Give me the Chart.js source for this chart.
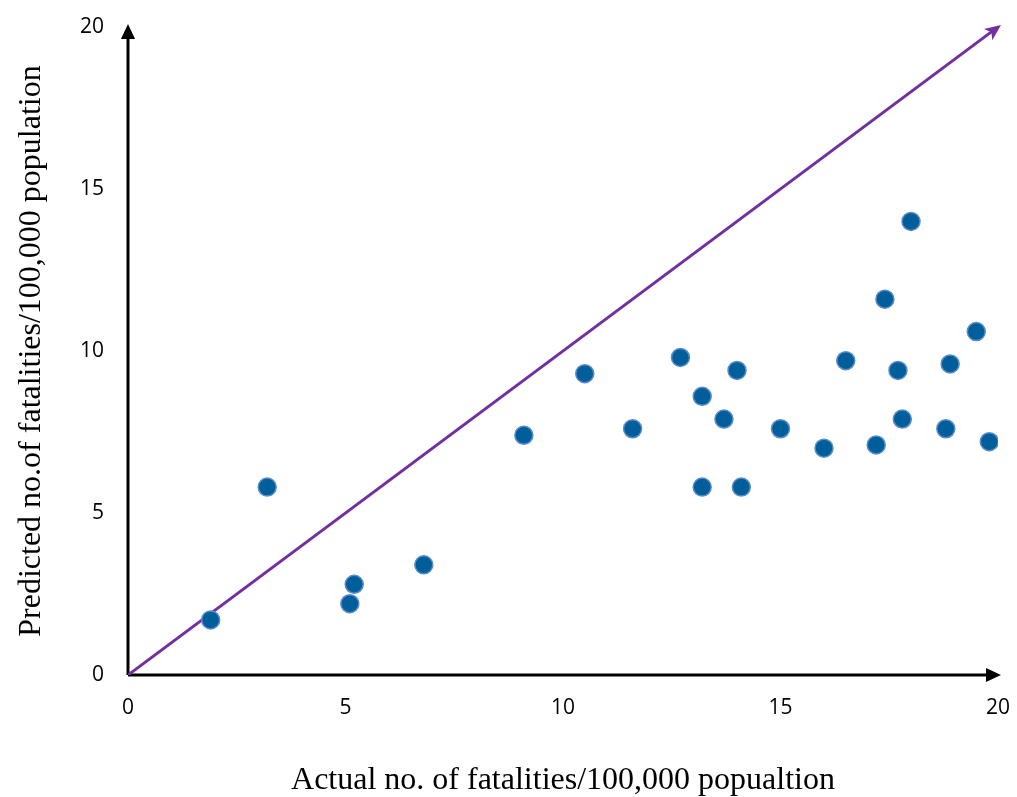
<!DOCTYPE html>
<html>
<head>
<meta charset="utf-8">
<script src="https://cdn.jsdelivr.net/npm/chart.js@4/dist/chart.umd.min.js"></script>
<style>
  html, body { margin: 0; padding: 0; background: #fff; }
  #wrap { width: 1017px; height: 797px; }
</style>
</head>
<body>
<div id="wrap"><canvas id="fatality-chart" width="1017" height="797"></canvas></div>
<script>
// actual vs predicted fatalities per 100,000 population
const actual = [1.9, 3.2, 5.1, 5.2, 6.8, 9.1, 10.5, 11.6, 12.7, 13.2, 13.2, 13.7, 14.0, 14.1, 15.0, 16.0, 16.5, 17.2, 17.4, 17.7, 17.8, 18.0, 18.8, 18.9, 19.5, 19.8];
const predicted = [1.7, 5.8, 2.2, 2.8, 3.4, 7.4, 9.3, 7.6, 9.8, 8.6, 5.8, 7.9, 9.4, 5.8, 7.6, 7.0, 9.7, 7.1, 11.6, 9.4, 7.9, 14.0, 7.6, 9.6, 10.6, 7.2];
const refLine = [{ x: 0, y: 0 }, { x: 20, y: 20 }];
const ticks = [0, 5, 10, 15, 20];

const points = actual.map((a, i) => ({ x: a, y: predicted[i] }));

function arrowHead(ctx, x, y, angle, len, wid, color) {
    ctx.save();
    ctx.translate(x, y);
    ctx.rotate(angle);
    ctx.fillStyle = color;
    ctx.beginPath();
    ctx.moveTo(0, 0);
    ctx.lineTo(-len, -wid / 2);
    ctx.lineTo(-len * 0.75, 0);
    ctx.lineTo(-len, wid / 2);
    ctx.closePath();
    ctx.fill();
    ctx.restore();
}

// draws the black axes with arrows and the arrow at the end of the diagonal
const arrowAxes = {
    id: 'arrowAxes',
    beforeDatasetsDraw(chart) {
        const { ctx, scales: { x, y } } = chart;
        const x0 = x.getPixelForValue(0), y0 = y.getPixelForValue(0);
        const xEnd = x.getPixelForValue(20), yEnd = y.getPixelForValue(20);
        ctx.save();
        ctx.strokeStyle = '#000';
        ctx.lineWidth = 3;
        ctx.beginPath();
        ctx.moveTo(x0, y0);
        ctx.lineTo(xEnd - 8, y0);
        ctx.moveTo(x0, y0);
        ctx.lineTo(x0, yEnd + 8);
        ctx.stroke();
        ctx.restore();
        // plain triangles for the axes
        ctx.save();
        ctx.fillStyle = '#000';
        ctx.beginPath();
        ctx.moveTo(xEnd + 3, y0);
        ctx.lineTo(xEnd - 12, y0 - 7);
        ctx.lineTo(xEnd - 12, y0 + 7);
        ctx.closePath();
        ctx.fill();
        ctx.beginPath();
        ctx.moveTo(x0, yEnd - 3);
        ctx.lineTo(x0 - 7, yEnd + 12);
        ctx.lineTo(x0 + 7, yEnd + 12);
        ctx.closePath();
        ctx.fill();
        ctx.restore();
    },
    afterDatasetsDraw(chart) {
        const { ctx, scales: { x, y } } = chart;
        const p0 = { x: x.getPixelForValue(refLine[0].x), y: y.getPixelForValue(refLine[0].y) };
        const p1 = { x: x.getPixelForValue(refLine[1].x), y: y.getPixelForValue(refLine[1].y) };
        const ang = Math.atan2(p1.y - p0.y, p1.x - p0.x);
        arrowHead(ctx, p1.x + 3, p1.y - 2, ang, 16, 14, '#7030a0');
    }
};

new Chart(document.getElementById('fatality-chart'), {
    data: {
        datasets: [
            {
                type: 'scatter',
                label: 'Counties',
                data: points,
                backgroundColor: '#005f9a',
                borderColor: '#5b8cc8',
                borderWidth: 1.5,
                pointRadius: 9,
                order: 1
            },
            {
                type: 'line',
                label: 'y = x',
                data: refLine,
                borderColor: '#7030a0',
                borderWidth: 3,
                pointRadius: 0,
                fill: false,
                order: 2
            }
        ]
    },
    options: {
        responsive: false,
        animation: false,
        layout: { autoPadding: false, padding: { top: 27, right: 19, left: 0, bottom: 0 } },
        plugins: {
            legend: { display: false },
            tooltip: { enabled: false }
        },
        scales: {
            x: {
                type: 'linear',
                min: 0,
                max: 20,
                afterBuildTicks: (s) => { s.ticks = ticks.map(v => ({ value: v })); },
                afterFit: (s) => { s.height = 122; s.paddingLeft = 0; s.paddingRight = 0; },
                grid: { display: false, drawTicks: false },
                border: { display: false },
                ticks: {
                    color: '#000',
                    padding: 20,
                    font: { family: 'Open Sans, Liberation Sans, sans-serif', size: 21 }
                },
                title: {
                    display: true,
                    text: 'Actual no. of fatalities/100,000 popualtion',
                    color: '#000',
                    padding: { top: 30, bottom: 0 },
                    font: { family: 'Liberation Serif, Times New Roman, serif', size: 32, lineHeight: 1 }
                }
            },
            y: {
                type: 'linear',
                min: 0,
                max: 20,
                afterBuildTicks: (s) => { s.ticks = ticks.map(v => ({ value: v })); },
                afterFit: (s) => { s.width = 128; s.paddingTop = 0; s.paddingBottom = 0; },
                grid: { display: false, drawTicks: false },
                border: { display: false },
                ticks: {
                    color: '#000',
                    padding: 24,
                    font: { family: 'Open Sans, Liberation Sans, sans-serif', size: 21 }
                },
                title: {
                    display: true,
                    text: 'Predicted no.of fatalities/100,000 population',
                    color: '#000',
                    padding: { top: 16, bottom: 0 },
                    font: { family: 'Liberation Serif, Times New Roman, serif', size: 32, lineHeight: 1 }
                }
            }
        }
    },
    plugins: [arrowAxes]
});
</script>
</body>
</html>
